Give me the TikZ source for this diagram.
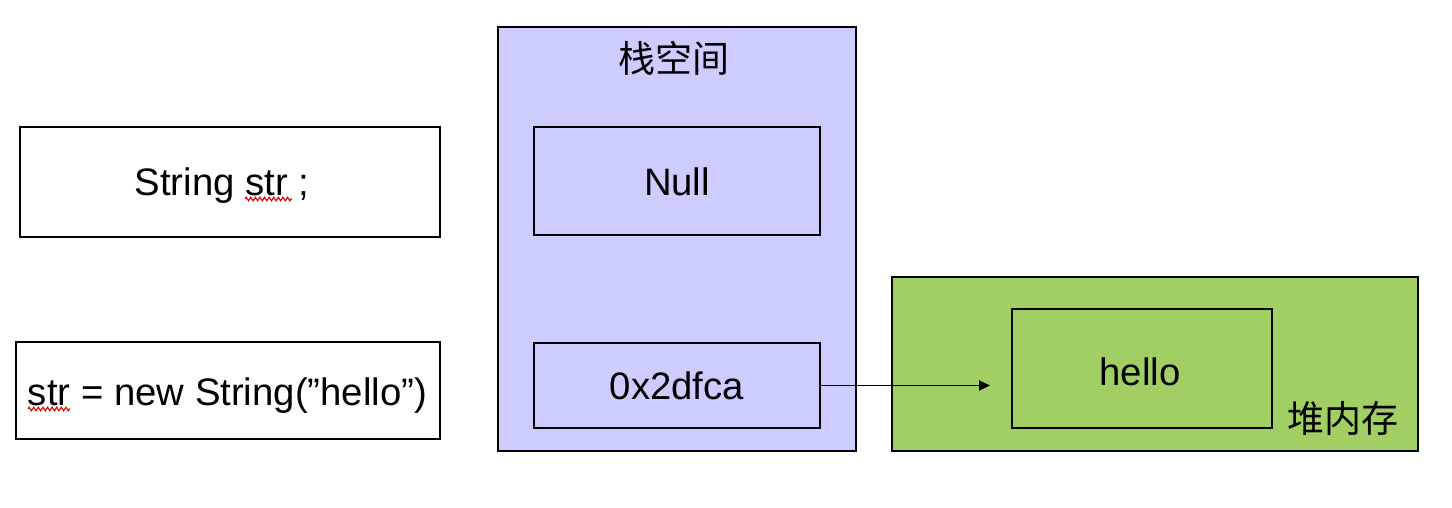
\documentclass[tikz,border=0pt]{standalone}
\usepackage{fontspec}
\setmainfont{Liberation Sans}
\newfontfamily\cjk{Noto Sans CJK SC}
\usetikzlibrary{arrows.meta,decorations.pathmorphing}
\definecolor{stackblue}{HTML}{CCCCFF}
\definecolor{heapgreen}{HTML}{A1CF64}
\begin{document}
\begin{tikzpicture}[x=1pt,y=-1pt,
  box/.style={draw=black,line width=2.2pt},
  lbl/.style={font=\fontsize{38.3}{40}\selectfont,inner sep=0pt,anchor=base},
  cjklbl/.style={font=\cjk\fontsize{37}{40}\selectfont,inner sep=0pt},
  squig/.style={draw=red!85!black,line width=1.1pt,decorate,decoration={zigzag,amplitude=1.8pt,segment length=4.6pt}}]
\useasboundingbox (0,0) rectangle (1452,508);
% left boxes
\draw[box] (20,127) rectangle (440,237);
\node[lbl] (t1) at (222,196) {String str ;};
\draw[box] (16,342) rectangle (440,439);
\node[lbl] (t2) at (227.5,405) {str = new String(”hello”)};
\draw[squig] (245,199) -- (292,199);
\draw[squig] (28,409) -- (70,409);
% stack
\draw[box,fill=stackblue] (498,27) rectangle (856,451);
\node[cjklbl] (stk) at (674,58) {栈空间};
\node[box,minimum width=286pt,minimum height=108pt,inner sep=0pt] (null) at (677,181) {};
\node[lbl] at (677,196) {Null};
\node[box,minimum width=286pt,minimum height=85pt,inner sep=0pt] (addr) at (677,385.5) {};
\node[lbl] at (677,399) {0x2dfca};
% heap
\draw[box,fill=heapgreen] (892,277) rectangle (1418,451);
\node[box,minimum width=260pt,minimum height=119pt,inner sep=0pt] (hello) at (1142,368.5) {};
\node[lbl] at (1140,385) {hello};
\node[cjklbl] (heap) at (1343,418) {堆内存};
\coordinate (tip) at (990,385.5);
\draw[line width=1.8pt,-{Triangle[length=11pt,width=10pt]}] (addr.east) -- (tip);
\end{tikzpicture}
\end{document}
